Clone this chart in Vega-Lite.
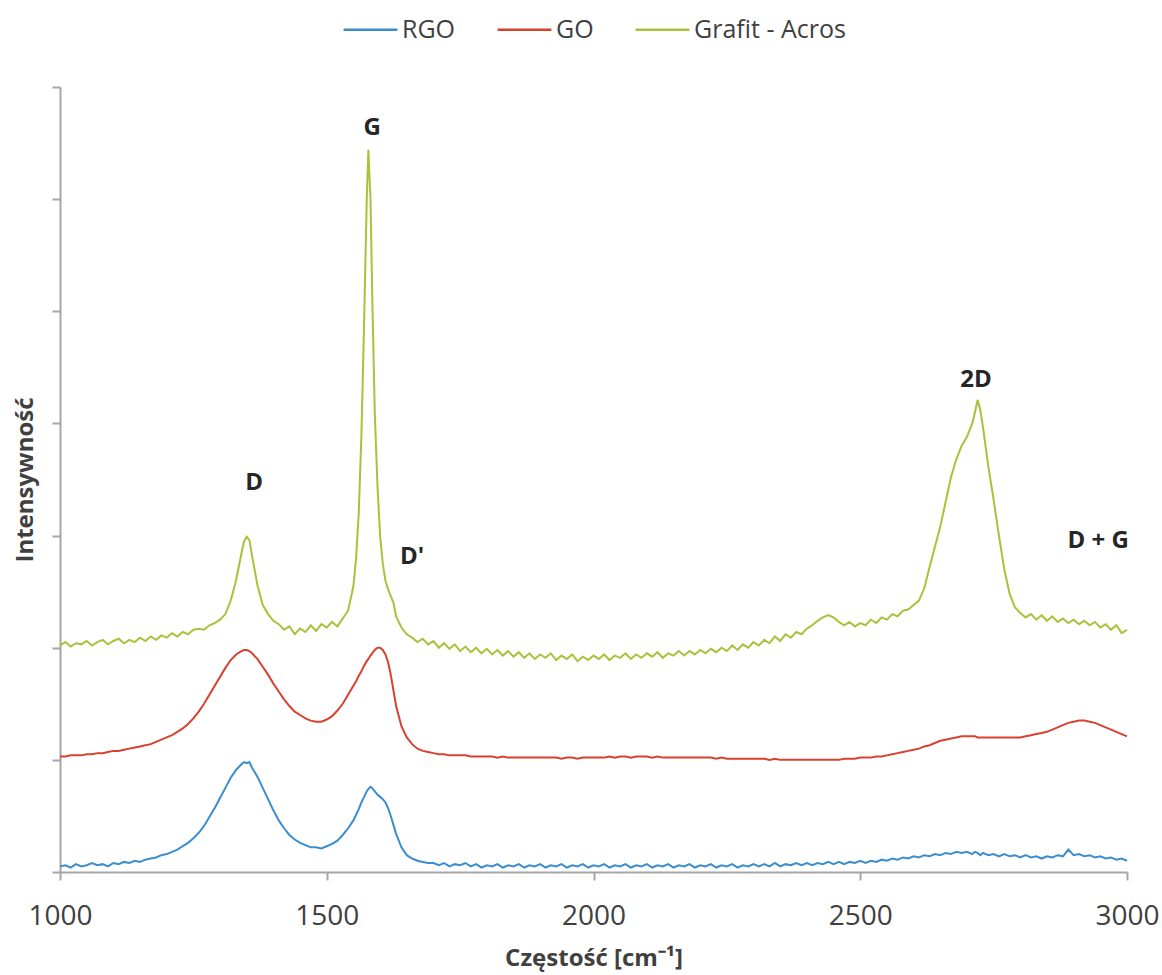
{
  "$schema": "https://vega.github.io/schema/vega-lite/v6.json",
  "width": 1067,
  "height": 785,
  "autosize": {"type": "none"},
  "padding": {"left": 60, "top": 87, "right": 35, "bottom": 103},
  "background": "white",
  "config": {
    "view": {"stroke": null},
    "font": "Open Sans",
    "legend": {"layout": {"top": {"anchor": "middle"}}}
  },
  "datasets": {
    "spectra": [
      {"x":1000,"RGO":0.05,"GO":1.03,"Grafit - Acros":2.02},
      {"x":1010,"RGO":0.06,"GO":1.03,"Grafit - Acros":2.05},
      {"x":1020,"RGO":0.04,"GO":1.04,"Grafit - Acros":2.01},
      {"x":1030,"RGO":0.07,"GO":1.04,"Grafit - Acros":2.04},
      {"x":1040,"RGO":0.05,"GO":1.04,"Grafit - Acros":2.03},
      {"x":1050,"RGO":0.06,"GO":1.05,"Grafit - Acros":2.06},
      {"x":1060,"RGO":0.08,"GO":1.05,"Grafit - Acros":2.02},
      {"x":1070,"RGO":0.06,"GO":1.06,"Grafit - Acros":2.05},
      {"x":1080,"RGO":0.07,"GO":1.06,"Grafit - Acros":2.07},
      {"x":1090,"RGO":0.05,"GO":1.07,"Grafit - Acros":2.03},
      {"x":1100,"RGO":0.08,"GO":1.08,"Grafit - Acros":2.06},
      {"x":1110,"RGO":0.07,"GO":1.08,"Grafit - Acros":2.08},
      {"x":1120,"RGO":0.09,"GO":1.09,"Grafit - Acros":2.04},
      {"x":1130,"RGO":0.08,"GO":1.10,"Grafit - Acros":2.07},
      {"x":1140,"RGO":0.10,"GO":1.11,"Grafit - Acros":2.05},
      {"x":1150,"RGO":0.09,"GO":1.12,"Grafit - Acros":2.09},
      {"x":1160,"RGO":0.11,"GO":1.13,"Grafit - Acros":2.06},
      {"x":1170,"RGO":0.12,"GO":1.14,"Grafit - Acros":2.10},
      {"x":1180,"RGO":0.13,"GO":1.16,"Grafit - Acros":2.07},
      {"x":1190,"RGO":0.15,"GO":1.18,"Grafit - Acros":2.11},
      {"x":1200,"RGO":0.16,"GO":1.20,"Grafit - Acros":2.09},
      {"x":1210,"RGO":0.18,"GO":1.22,"Grafit - Acros":2.13},
      {"x":1220,"RGO":0.20,"GO":1.25,"Grafit - Acros":2.10},
      {"x":1230,"RGO":0.23,"GO":1.28,"Grafit - Acros":2.14},
      {"x":1240,"RGO":0.26,"GO":1.32,"Grafit - Acros":2.12},
      {"x":1250,"RGO":0.30,"GO":1.37,"Grafit - Acros":2.16},
      {"x":1260,"RGO":0.35,"GO":1.43,"Grafit - Acros":2.17},
      {"x":1270,"RGO":0.41,"GO":1.50,"Grafit - Acros":2.16},
      {"x":1280,"RGO":0.49,"GO":1.58,"Grafit - Acros":2.20},
      {"x":1290,"RGO":0.57,"GO":1.66,"Grafit - Acros":2.22},
      {"x":1300,"RGO":0.66,"GO":1.74,"Grafit - Acros":2.25},
      {"x":1310,"RGO":0.75,"GO":1.82,"Grafit - Acros":2.30},
      {"x":1320,"RGO":0.84,"GO":1.89,"Grafit - Acros":2.42},
      {"x":1330,"RGO":0.91,"GO":1.94,"Grafit - Acros":2.60},
      {"x":1340,"RGO":0.96,"GO":1.97,"Grafit - Acros":2.84},
      {"x":1345,"RGO":0.98,"GO":1.98,"Grafit - Acros":2.95},
      {"x":1350,"RGO":0.97,"GO":1.98,"Grafit - Acros":2.99},
      {"x":1355,"RGO":0.98,"GO":1.97,"Grafit - Acros":2.96},
      {"x":1360,"RGO":0.93,"GO":1.95,"Grafit - Acros":2.82},
      {"x":1370,"RGO":0.85,"GO":1.90,"Grafit - Acros":2.56},
      {"x":1380,"RGO":0.75,"GO":1.83,"Grafit - Acros":2.38},
      {"x":1390,"RGO":0.65,"GO":1.76,"Grafit - Acros":2.30},
      {"x":1400,"RGO":0.55,"GO":1.68,"Grafit - Acros":2.24},
      {"x":1410,"RGO":0.46,"GO":1.61,"Grafit - Acros":2.21},
      {"x":1420,"RGO":0.39,"GO":1.54,"Grafit - Acros":2.16},
      {"x":1430,"RGO":0.33,"GO":1.48,"Grafit - Acros":2.19},
      {"x":1440,"RGO":0.29,"GO":1.43,"Grafit - Acros":2.12},
      {"x":1450,"RGO":0.26,"GO":1.40,"Grafit - Acros":2.17},
      {"x":1460,"RGO":0.24,"GO":1.37,"Grafit - Acros":2.14},
      {"x":1470,"RGO":0.22,"GO":1.35,"Grafit - Acros":2.20},
      {"x":1480,"RGO":0.22,"GO":1.34,"Grafit - Acros":2.15},
      {"x":1490,"RGO":0.21,"GO":1.34,"Grafit - Acros":2.21},
      {"x":1500,"RGO":0.23,"GO":1.36,"Grafit - Acros":2.18},
      {"x":1510,"RGO":0.25,"GO":1.39,"Grafit - Acros":2.23},
      {"x":1520,"RGO":0.28,"GO":1.44,"Grafit - Acros":2.19},
      {"x":1530,"RGO":0.33,"GO":1.50,"Grafit - Acros":2.26},
      {"x":1540,"RGO":0.39,"GO":1.58,"Grafit - Acros":2.33},
      {"x":1550,"RGO":0.46,"GO":1.66,"Grafit - Acros":2.55},
      {"x":1555,"RGO":0.51,"GO":1.70,"Grafit - Acros":2.80},
      {"x":1560,"RGO":0.56,"GO":1.75,"Grafit - Acros":3.20},
      {"x":1565,"RGO":0.62,"GO":1.79,"Grafit - Acros":3.90},
      {"x":1570,"RGO":0.67,"GO":1.84,"Grafit - Acros":4.90},
      {"x":1575,"RGO":0.72,"GO":1.88,"Grafit - Acros":6.00},
      {"x":1578,"RGO":0.74,"GO":1.90,"Grafit - Acros":6.44},
      {"x":1582,"RGO":0.76,"GO":1.93,"Grafit - Acros":6.00},
      {"x":1585,"RGO":0.75,"GO":1.95,"Grafit - Acros":5.20},
      {"x":1590,"RGO":0.72,"GO":1.98,"Grafit - Acros":4.10},
      {"x":1595,"RGO":0.69,"GO":2.00,"Grafit - Acros":3.45},
      {"x":1600,"RGO":0.67,"GO":2.00,"Grafit - Acros":3.00},
      {"x":1605,"RGO":0.65,"GO":1.98,"Grafit - Acros":2.75},
      {"x":1610,"RGO":0.62,"GO":1.94,"Grafit - Acros":2.60},
      {"x":1615,"RGO":0.57,"GO":1.87,"Grafit - Acros":2.52},
      {"x":1620,"RGO":0.50,"GO":1.76,"Grafit - Acros":2.46},
      {"x":1625,"RGO":0.42,"GO":1.62,"Grafit - Acros":2.40},
      {"x":1630,"RGO":0.34,"GO":1.48,"Grafit - Acros":2.28},
      {"x":1640,"RGO":0.22,"GO":1.30,"Grafit - Acros":2.18},
      {"x":1650,"RGO":0.15,"GO":1.20,"Grafit - Acros":2.12},
      {"x":1660,"RGO":0.12,"GO":1.14,"Grafit - Acros":2.09},
      {"x":1670,"RGO":0.10,"GO":1.10,"Grafit - Acros":2.05},
      {"x":1680,"RGO":0.09,"GO":1.08,"Grafit - Acros":2.08},
      {"x":1690,"RGO":0.08,"GO":1.07,"Grafit - Acros":2.03},
      {"x":1700,"RGO":0.08,"GO":1.06,"Grafit - Acros":2.06},
      {"x":1710,"RGO":0.06,"GO":1.05,"Grafit - Acros":2.00},
      {"x":1720,"RGO":0.08,"GO":1.05,"Grafit - Acros":2.04},
      {"x":1730,"RGO":0.05,"GO":1.04,"Grafit - Acros":1.99},
      {"x":1740,"RGO":0.07,"GO":1.04,"Grafit - Acros":2.03},
      {"x":1750,"RGO":0.06,"GO":1.04,"Grafit - Acros":1.97},
      {"x":1760,"RGO":0.08,"GO":1.04,"Grafit - Acros":2.01},
      {"x":1770,"RGO":0.05,"GO":1.03,"Grafit - Acros":1.96},
      {"x":1780,"RGO":0.07,"GO":1.03,"Grafit - Acros":2.00},
      {"x":1790,"RGO":0.04,"GO":1.03,"Grafit - Acros":1.95},
      {"x":1800,"RGO":0.06,"GO":1.03,"Grafit - Acros":1.99},
      {"x":1810,"RGO":0.05,"GO":1.03,"Grafit - Acros":1.94},
      {"x":1820,"RGO":0.07,"GO":1.02,"Grafit - Acros":1.98},
      {"x":1830,"RGO":0.04,"GO":1.03,"Grafit - Acros":1.93},
      {"x":1840,"RGO":0.06,"GO":1.02,"Grafit - Acros":1.97},
      {"x":1850,"RGO":0.05,"GO":1.02,"Grafit - Acros":1.92},
      {"x":1860,"RGO":0.07,"GO":1.02,"Grafit - Acros":1.96},
      {"x":1870,"RGO":0.04,"GO":1.02,"Grafit - Acros":1.91},
      {"x":1880,"RGO":0.06,"GO":1.02,"Grafit - Acros":1.95},
      {"x":1890,"RGO":0.05,"GO":1.02,"Grafit - Acros":1.90},
      {"x":1900,"RGO":0.07,"GO":1.02,"Grafit - Acros":1.94},
      {"x":1910,"RGO":0.04,"GO":1.02,"Grafit - Acros":1.91},
      {"x":1920,"RGO":0.06,"GO":1.02,"Grafit - Acros":1.95},
      {"x":1930,"RGO":0.05,"GO":1.02,"Grafit - Acros":1.89},
      {"x":1940,"RGO":0.07,"GO":1.01,"Grafit - Acros":1.93},
      {"x":1950,"RGO":0.04,"GO":1.02,"Grafit - Acros":1.90},
      {"x":1960,"RGO":0.06,"GO":1.02,"Grafit - Acros":1.94},
      {"x":1970,"RGO":0.05,"GO":1.01,"Grafit - Acros":1.88},
      {"x":1980,"RGO":0.07,"GO":1.02,"Grafit - Acros":1.92},
      {"x":1990,"RGO":0.04,"GO":1.02,"Grafit - Acros":1.89},
      {"x":2000,"RGO":0.06,"GO":1.02,"Grafit - Acros":1.93},
      {"x":2010,"RGO":0.05,"GO":1.02,"Grafit - Acros":1.90},
      {"x":2020,"RGO":0.07,"GO":1.02,"Grafit - Acros":1.94},
      {"x":2030,"RGO":0.04,"GO":1.03,"Grafit - Acros":1.89},
      {"x":2040,"RGO":0.06,"GO":1.02,"Grafit - Acros":1.93},
      {"x":2050,"RGO":0.05,"GO":1.03,"Grafit - Acros":1.91},
      {"x":2060,"RGO":0.07,"GO":1.03,"Grafit - Acros":1.95},
      {"x":2070,"RGO":0.04,"GO":1.02,"Grafit - Acros":1.90},
      {"x":2080,"RGO":0.06,"GO":1.03,"Grafit - Acros":1.94},
      {"x":2090,"RGO":0.05,"GO":1.03,"Grafit - Acros":1.91},
      {"x":2100,"RGO":0.07,"GO":1.03,"Grafit - Acros":1.95},
      {"x":2110,"RGO":0.04,"GO":1.02,"Grafit - Acros":1.92},
      {"x":2120,"RGO":0.06,"GO":1.03,"Grafit - Acros":1.96},
      {"x":2130,"RGO":0.05,"GO":1.02,"Grafit - Acros":1.91},
      {"x":2140,"RGO":0.07,"GO":1.02,"Grafit - Acros":1.95},
      {"x":2150,"RGO":0.04,"GO":1.02,"Grafit - Acros":1.93},
      {"x":2160,"RGO":0.06,"GO":1.02,"Grafit - Acros":1.97},
      {"x":2170,"RGO":0.05,"GO":1.02,"Grafit - Acros":1.93},
      {"x":2180,"RGO":0.07,"GO":1.02,"Grafit - Acros":1.97},
      {"x":2190,"RGO":0.04,"GO":1.02,"Grafit - Acros":1.94},
      {"x":2200,"RGO":0.06,"GO":1.02,"Grafit - Acros":1.98},
      {"x":2210,"RGO":0.05,"GO":1.02,"Grafit - Acros":1.95},
      {"x":2220,"RGO":0.07,"GO":1.02,"Grafit - Acros":1.99},
      {"x":2230,"RGO":0.04,"GO":1.01,"Grafit - Acros":1.96},
      {"x":2240,"RGO":0.06,"GO":1.02,"Grafit - Acros":2.00},
      {"x":2250,"RGO":0.05,"GO":1.01,"Grafit - Acros":1.97},
      {"x":2260,"RGO":0.07,"GO":1.01,"Grafit - Acros":2.02},
      {"x":2270,"RGO":0.04,"GO":1.01,"Grafit - Acros":1.98},
      {"x":2280,"RGO":0.06,"GO":1.01,"Grafit - Acros":2.03},
      {"x":2290,"RGO":0.05,"GO":1.01,"Grafit - Acros":2.00},
      {"x":2300,"RGO":0.07,"GO":1.01,"Grafit - Acros":2.05},
      {"x":2310,"RGO":0.05,"GO":1.01,"Grafit - Acros":2.02},
      {"x":2320,"RGO":0.07,"GO":1.01,"Grafit - Acros":2.07},
      {"x":2330,"RGO":0.05,"GO":1.00,"Grafit - Acros":2.04},
      {"x":2340,"RGO":0.08,"GO":1.01,"Grafit - Acros":2.10},
      {"x":2350,"RGO":0.05,"GO":1.00,"Grafit - Acros":2.06},
      {"x":2360,"RGO":0.07,"GO":1.00,"Grafit - Acros":2.12},
      {"x":2370,"RGO":0.06,"GO":1.00,"Grafit - Acros":2.09},
      {"x":2380,"RGO":0.08,"GO":1.00,"Grafit - Acros":2.14},
      {"x":2390,"RGO":0.06,"GO":1.00,"Grafit - Acros":2.12},
      {"x":2400,"RGO":0.08,"GO":1.00,"Grafit - Acros":2.17},
      {"x":2410,"RGO":0.06,"GO":1.00,"Grafit - Acros":2.20},
      {"x":2420,"RGO":0.08,"GO":1.00,"Grafit - Acros":2.24},
      {"x":2430,"RGO":0.07,"GO":1.00,"Grafit - Acros":2.27},
      {"x":2440,"RGO":0.09,"GO":1.00,"Grafit - Acros":2.29},
      {"x":2450,"RGO":0.07,"GO":1.00,"Grafit - Acros":2.27},
      {"x":2460,"RGO":0.09,"GO":1.00,"Grafit - Acros":2.23},
      {"x":2470,"RGO":0.07,"GO":1.01,"Grafit - Acros":2.20},
      {"x":2480,"RGO":0.09,"GO":1.01,"Grafit - Acros":2.23},
      {"x":2490,"RGO":0.08,"GO":1.01,"Grafit - Acros":2.19},
      {"x":2500,"RGO":0.10,"GO":1.02,"Grafit - Acros":2.22},
      {"x":2510,"RGO":0.08,"GO":1.02,"Grafit - Acros":2.20},
      {"x":2520,"RGO":0.10,"GO":1.02,"Grafit - Acros":2.25},
      {"x":2530,"RGO":0.09,"GO":1.03,"Grafit - Acros":2.22},
      {"x":2540,"RGO":0.11,"GO":1.03,"Grafit - Acros":2.27},
      {"x":2550,"RGO":0.10,"GO":1.04,"Grafit - Acros":2.25},
      {"x":2560,"RGO":0.12,"GO":1.05,"Grafit - Acros":2.30},
      {"x":2570,"RGO":0.11,"GO":1.06,"Grafit - Acros":2.28},
      {"x":2580,"RGO":0.13,"GO":1.07,"Grafit - Acros":2.33},
      {"x":2590,"RGO":0.12,"GO":1.08,"Grafit - Acros":2.34},
      {"x":2600,"RGO":0.14,"GO":1.09,"Grafit - Acros":2.38},
      {"x":2610,"RGO":0.13,"GO":1.10,"Grafit - Acros":2.42},
      {"x":2620,"RGO":0.15,"GO":1.12,"Grafit - Acros":2.53},
      {"x":2630,"RGO":0.14,"GO":1.13,"Grafit - Acros":2.72},
      {"x":2640,"RGO":0.16,"GO":1.15,"Grafit - Acros":2.90},
      {"x":2650,"RGO":0.15,"GO":1.17,"Grafit - Acros":3.08},
      {"x":2660,"RGO":0.17,"GO":1.18,"Grafit - Acros":3.30},
      {"x":2670,"RGO":0.16,"GO":1.19,"Grafit - Acros":3.52},
      {"x":2680,"RGO":0.18,"GO":1.20,"Grafit - Acros":3.68},
      {"x":2690,"RGO":0.17,"GO":1.21,"Grafit - Acros":3.80},
      {"x":2700,"RGO":0.18,"GO":1.21,"Grafit - Acros":3.88},
      {"x":2710,"RGO":0.16,"GO":1.21,"Grafit - Acros":4.00},
      {"x":2715,"RGO":0.18,"GO":1.21,"Grafit - Acros":4.10},
      {"x":2720,"RGO":0.17,"GO":1.20,"Grafit - Acros":4.21},
      {"x":2725,"RGO":0.15,"GO":1.20,"Grafit - Acros":4.12},
      {"x":2730,"RGO":0.17,"GO":1.20,"Grafit - Acros":3.97},
      {"x":2740,"RGO":0.15,"GO":1.20,"Grafit - Acros":3.62},
      {"x":2750,"RGO":0.16,"GO":1.20,"Grafit - Acros":3.32},
      {"x":2760,"RGO":0.14,"GO":1.20,"Grafit - Acros":3.00},
      {"x":2770,"RGO":0.16,"GO":1.20,"Grafit - Acros":2.70},
      {"x":2780,"RGO":0.14,"GO":1.20,"Grafit - Acros":2.48},
      {"x":2790,"RGO":0.15,"GO":1.20,"Grafit - Acros":2.36},
      {"x":2800,"RGO":0.13,"GO":1.20,"Grafit - Acros":2.31},
      {"x":2810,"RGO":0.15,"GO":1.21,"Grafit - Acros":2.27},
      {"x":2820,"RGO":0.13,"GO":1.22,"Grafit - Acros":2.30},
      {"x":2830,"RGO":0.14,"GO":1.23,"Grafit - Acros":2.25},
      {"x":2840,"RGO":0.12,"GO":1.24,"Grafit - Acros":2.29},
      {"x":2850,"RGO":0.14,"GO":1.25,"Grafit - Acros":2.24},
      {"x":2860,"RGO":0.13,"GO":1.27,"Grafit - Acros":2.28},
      {"x":2870,"RGO":0.15,"GO":1.29,"Grafit - Acros":2.23},
      {"x":2880,"RGO":0.14,"GO":1.31,"Grafit - Acros":2.26},
      {"x":2890,"RGO":0.20,"GO":1.33,"Grafit - Acros":2.22},
      {"x":2900,"RGO":0.15,"GO":1.34,"Grafit - Acros":2.25},
      {"x":2910,"RGO":0.16,"GO":1.35,"Grafit - Acros":2.21},
      {"x":2920,"RGO":0.14,"GO":1.35,"Grafit - Acros":2.24},
      {"x":2930,"RGO":0.15,"GO":1.34,"Grafit - Acros":2.20},
      {"x":2940,"RGO":0.13,"GO":1.33,"Grafit - Acros":2.23},
      {"x":2950,"RGO":0.14,"GO":1.31,"Grafit - Acros":2.18},
      {"x":2960,"RGO":0.12,"GO":1.29,"Grafit - Acros":2.21},
      {"x":2970,"RGO":0.13,"GO":1.27,"Grafit - Acros":2.16},
      {"x":2980,"RGO":0.11,"GO":1.25,"Grafit - Acros":2.20},
      {"x":2990,"RGO":0.12,"GO":1.23,"Grafit - Acros":2.13},
      {"x":3000,"RGO":0.10,"GO":1.21,"Grafit - Acros":2.16}
    ],
    "peaks": [
      {"x":1364,"y":3.47,"label":"D"},
      {"x":1585,"y":6.63,"label":"G"},
      {"x":1660,"y":2.81,"label":"D'"},
      {"x":2717,"y":4.39,"label":"2D"},
      {"x":2946,"y":2.95,"label":"D + G"}
    ]
  },
  "layer": [
    {
      "data": {"name": "spectra"},
      "transform": [{"fold": ["RGO", "GO", "Grafit - Acros"], "as": ["series", "y"]}],
      "mark": {"type": "line", "strokeWidth": 2},
      "encoding": {
        "x": {
          "field": "x", "type": "quantitative",
          "scale": {"domain": [1000, 3000], "nice": false},
          "axis": {
            "values": [1000, 1500, 2000, 2500, 3000],
            "format": "d",
            "grid": false,
            "labelFont": "Open Sans", "labelFontSize": 28, "labelColor": "#404040",
            "labelPadding": 22, "labelFlush": false,
            "domainColor": "#a6a6a6", "domainWidth": 2,
            "tickColor": "#a6a6a6", "tickWidth": 2, "tickSize": 8,
            "title": "Częstość [cm⁻¹]",
            "titleFont": "Open Sans", "titleFontSize": 24, "titleFontWeight": "bold",
            "titleColor": "#404040", "titlePadding": 16
          }
        },
        "y": {
          "field": "y", "type": "quantitative",
          "scale": {"domain": [0, 7], "nice": false},
          "axis": {
            "values": [0, 1, 2, 3, 4, 5, 6, 7],
            "labels": false, "grid": false,
            "domainColor": "#a6a6a6", "domainWidth": 2,
            "tickColor": "#a6a6a6", "tickWidth": 2, "tickSize": 8,
            "title": "Intensywność",
            "titleFont": "Open Sans", "titleFontSize": 24, "titleFontWeight": "bold",
            "titleColor": "#404040", "titlePadding": 14
          }
        },
        "color": {
          "field": "series", "type": "nominal",
          "scale": {"domain": ["RGO", "GO", "Grafit - Acros"], "range": ["#3a8ed0", "#d8412f", "#a9c23b"]},
          "legend": {
            "orient": "top", "title": null, "direction": "horizontal",
            "symbolType": "stroke", "symbolSize": 2900, "symbolStrokeWidth": 2.5,
            "labelFont": "Open Sans", "labelFontSize": 25, "labelColor": "#404040",
            "labelOffset": 3, "columnPadding": 36, "offset": 44
          }
        }
      }
    },
    {
      "data": {"name": "peaks"},
      "mark": {"type": "text", "font": "Open Sans", "fontWeight": "bold", "fontSize": 24, "color": "#262626", "align": "center", "baseline": "middle"},
      "encoding": {
        "x": {"field": "x", "type": "quantitative"},
        "y": {"field": "y", "type": "quantitative"},
        "text": {"field": "label"}
      }
    }
  ]
}
